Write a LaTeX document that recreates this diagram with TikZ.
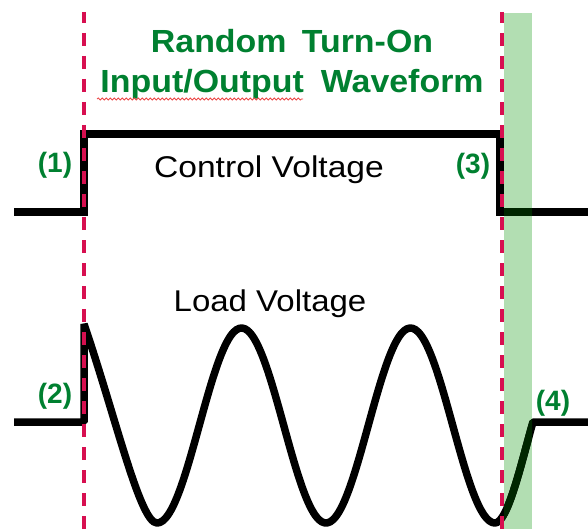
\documentclass[tikz,border=0pt]{standalone}
\usepackage{fontspec}
\setmainfont{Liberation Sans}
\usetikzlibrary{decorations.pathmorphing}
\definecolor{crim}{RGB}{215,15,80}
\definecolor{ttlgreen}{RGB}{0,128,48}
\definecolor{band}{RGB}{178,222,178}
\definecolor{darkin}{RGB}{0,38,0}
\definecolor{squig}{RGB}{235,70,70}
\tikzset{
  wave/.style={line width=7.5pt},
  redline/.style={draw=crim, line width=3.5pt, dash pattern=on 13pt off 10pt, dash phase=2pt},
  num/.style={anchor=base, text=ttlgreen, font=\fontsize{28}{32}\selectfont\bfseries, inner sep=0pt},
  ttl/.style={anchor=base, text=ttlgreen, font=\fontsize{32}{38}\selectfont\bfseries, inner sep=0pt},
  caption/.style={anchor=base, text=black, font=\fontsize{30}{36}\selectfont, inner sep=0pt}
}
\newcommand{\ctrlpath}{(14,212) -- (84,212) -- (84,134) -- (500,134) -- (500,212) -- (588,212)}
\newcommand{\loadpath}{(14,422) -- (84,422) -- (84,324)
  .. controls (116,418) and (140,523) .. (157,523)
  -- plot[domain=157:495, samples=120, smooth] (\x, {425.5+97.5*cos((\x-157)*2.13018)})
  .. controls (508,523) and (522,460) .. (533,422) -- (588,422)}
\begin{document}
\begin{tikzpicture}[x=1pt,y=-1pt]
\useasboundingbox (0,0) rectangle (588,529);
% green band
\fill[band] (504,13) rectangle (532,529);
% control voltage
\draw[wave, black, line join=miter] \ctrlpath;
% load voltage
\draw[wave, black, line join=bevel] \loadpath;
% darkened parts inside band
\begin{scope}
\clip (504,13) rectangle (532,529);
\draw[wave, darkin, line join=miter] \ctrlpath;
\draw[wave, darkin, line join=bevel] \loadpath;
\end{scope}
% dashed markers
\coordinate (lt) at (84,12);
\coordinate (lb) at (84,529);
\coordinate (rt) at (502,12);
\coordinate (rb) at (502,529);
\draw[redline] (lt) -- (lb);
\draw[redline] (rt) -- (rb);
% title
\node[ttl] (t1) at (292,53) {\scalebox{1.06}[1]{Random\hspace{0.45em}Turn-On}};
\node[ttl] (t2) at (292,93) {\scalebox{1.06}[1]{Input/Output\hspace{0.5em}Waveform}};
\draw[squig, line width=0.8pt, decorate, decoration={snake, amplitude=1pt, segment length=4pt}] (97,99) -- (303,99);
% captions
\node[caption] (cv) at (269,178) {\scalebox{1.12}[1]{Control Voltage}};
\node[caption] (lv) at (270,311) {\scalebox{1.10}[1]{Load Voltage}};
% numbers
\node[num] (n1) at (55,173) {(1)};
\node[num] (n2) at (55,403) {(2)};
\node[num] (n3) at (473,174) {(3)};
\node[num] (n4) at (553,410) {(4)};
\end{tikzpicture}
\end{document}
